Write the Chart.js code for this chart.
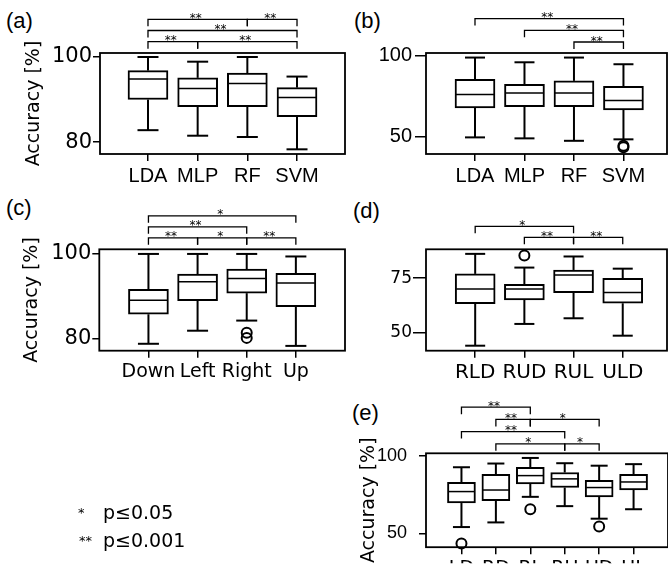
<!DOCTYPE html>
<html>
<head>
<meta charset="utf-8">
<script src="https://cdn.jsdelivr.net/npm/chart.js@4.4.1/dist/chart.umd.min.js"></script>
<style>
  html, body { margin: 0; padding: 0; background: #fff; overflow: hidden; }
  #fig { position: relative; width: 668px; height: 570px; overflow: hidden; background: #fff; }
  #fig canvas { position: absolute; left: 0; top: 0; }
  .lbl { position: absolute; font: 22px "Liberation Sans", Arial, sans-serif; line-height: 22px; color: #000; white-space: nowrap; }
  .lg  { position: absolute; font: 19px "DejaVu Sans", sans-serif; line-height: 19px; color: #000; white-space: nowrap; will-change: transform; }
  .st  { position: absolute; font: 13px "DejaVu Sans", sans-serif; line-height: 13px; color: #000; white-space: nowrap; will-change: transform; }
</style>
</head>
<body>
<div id="fig">
  <div class="lbl" style="left:6px;top:10px">(a)</div>
  <div class="lbl" style="left:354px;top:10px">(b)</div>
  <div class="lbl" style="left:6px;top:197px">(c)</div>
  <div class="lbl" style="left:353px;top:200px">(d)</div>
  <div class="lbl" style="left:352px;top:402px">(e)</div>

  <div class="st" style="left:78px;top:506px">*</div>
  <div class="lg" style="left:103px;top:503px">p≤0.05</div>
  <div class="st" style="left:79px;top:534px">**</div>
  <div class="lg" style="left:103px;top:531px">p≤0.001</div>
</div>

<script>
// ---- data ----
// (a) classifiers
const catsA = ['LDA', 'MLP', 'RF', 'SVM'];
const loA   = [82.8, 81.5, 81.2, 78.3];
const q1A   = [90.0, 88.3, 88.3, 86.0];
const medA  = [94.8, 92.6, 93.8, 90.5];
const q3A   = [96.8, 95.1, 96.2, 92.8];
const hiA   = [100, 98.9, 100, 95.4];
const outA  = [];
const yTicksA = [80, 100];
// [from, to, stars, level]  level 0 = closest to the axes
const sigA = [[0, 1, '**', 0], [1, 3, '**', 0], [0, 3, '**', 1], [0, 2, '**', 2], [2, 3, '**', 2]];

// (b) classifiers
const catsB = ['LDA', 'MLP', 'RF', 'SVM'];
const loB   = [49.6, 49.0, 47.5, 48.4];
const q1B   = [67.7, 68.4, 68.4, 66.5];
const medB  = [75.9, 76.9, 76.9, 72.3];
const q3B   = [85.3, 82.2, 84.3, 81.0];
const hiB   = [98.6, 95.7, 98.6, 94.5];
const outB  = [[3, 43.5], [3, 44.5]];
const yTicksB = [50, 100];
const sigB = [[2, 3, '**', 0], [1, 3, '**', 1], [0, 3, '**', 2]];

// (c) directions
const catsC = ['Down', 'Left', 'Right', 'Up'];
const loC   = [78.7, 81.8, 84.2, 78.2];
const q1C   = [85.7, 88.9, 90.7, 87.5];
const medC  = [89.0, 93.4, 94.2, 93.1];
const q3C   = [91.6, 95.2, 96.4, 95.4];
const hiC   = [100, 100, 100, 99.4];
const outC  = [[2, 81.3], [2, 80.1]];
const yTicksC = [80, 100];
const sigC = [[0, 1, '**', 0], [1, 2, '*', 0], [2, 3, '**', 0], [0, 2, '**', 1], [0, 3, '*', 2]];

// (d) three-direction sets
const catsD = ['RLD', 'RUD', 'RUL', 'ULD'];
const loD   = [44.0, 54.0, 56.6, 48.6];
const q1D   = [63.3, 65.0, 68.4, 63.5];
const medD  = [70.1, 70.1, 76.5, 68.4];
const q3D   = [77.0, 72.2, 78.8, 75.0];
const hiD   = [86.2, 79.9, 85.0, 79.4];
const outD  = [[1, 85.4]];
const yTicksD = [50, 75];
const sigD = [[1, 2, '**', 0], [2, 3, '**', 0], [0, 2, '*', 1]];

// (e) two-direction sets
const catsE = ['LD', 'RD', 'RL', 'RU', 'UD', 'UL'];
const loE   = [54.0, 57.0, 73.5, 67.5, 59.4, 65.5];
const q1E   = [69.5, 71.1, 81.9, 79.5, 73.5, 77.9];
const medE  = [76.9, 77.9, 87.2, 85.1, 79.5, 83.1];
const q3E   = [82.9, 88.0, 92.6, 89.2, 84.2, 88.0];
const hiE   = [92.6, 95.0, 98.6, 95.2, 93.6, 94.6];
const outE  = [[0, 43.4], [2, 65.5], [4, 54.4]];
const yTicksE = [50, 100];
const sigE = [[1, 3, '*', 0], [3, 4, '*', 0], [0, 3, '**', 1], [1, 2, '**', 2], [2, 4, '*', 2], [0, 2, '**', 3]];

// ---- layout ----
const W = 668, H = 570;
const fig = document.getElementById('fig');
Chart.defaults.color = '#000';

const panels = [
  { cats: catsA, lo: loA, q1: q1A, med: medA, q3: q3A, hi: hiA, out: outA, sig: sigA, yTicks: yTicksA,
    yMin: 77.2, yMax: 100.94, xMin: -0.966, xMax: 3.966, area: { l: 100, r: 345, t: 53, b: 154 },
    padL: 22.7, title: true, yFont: { family: 'DejaVu Sans', size: 21 }, xFont: { family: 'Liberation Sans', size: 20 },
    yTick: 7, yPad: 1, box: 40, cap: 21, lev0: 11.3, levStep: 11.2 },
  { cats: catsB, lo: loB, q1: q1B, med: medB, q3: q3B, hi: hiB, out: outB, sig: sigB, yTicks: yTicksB,
    yMin: 39.4, yMax: 101.4, xMin: -0.99, xMax: 3.88, area: { l: 426, r: 667, t: 53, b: 154 },
    padL: 360, title: false, yFont: { family: 'Liberation Sans', size: 20 }, xFont: { family: 'Liberation Sans', size: 20 },
    yTick: 11, yPad: 3, box: 40, cap: 20, lev0: 11, levStep: 11.7 },
  { cats: catsC, lo: loC, q1: q1C, med: medC, q3: q3C, hi: hiC, out: outC, sig: sigC, yTicks: yTicksC,
    yMin: 77.06, yMax: 101.1, xMin: -1.0, xMax: 4.0, area: { l: 99.3, r: 345, t: 249.3, b: 350.7 },
    padL: 21, title: true, yFont: { family: 'DejaVu Sans', size: 21 }, xFont: { family: 'DejaVu Sans', size: 19 },
    yTick: 7, yPad: 1, box: 40, cap: 21, lev0: 11.5, levStep: 11 },
  { cats: catsD, lo: loD, q1: q1D, med: medD, q3: q3D, hi: hiD, out: outD, sig: sigD, yTicks: yTicksD,
    yMin: 41.7, yMax: 88.3, xMin: -1.0, xMax: 3.9, area: { l: 426, r: 667, t: 249.3, b: 350.7 },
    padL: 360, title: false, yFont: { family: 'DejaVu Sans', size: 17 }, xFont: { family: 'DejaVu Sans', size: 20 },
    yTick: 13, yPad: 1, box: 40, cap: 20, lev0: 12, levStep: 11 },
  { cats: catsE, lo: loE, q1: q1E, med: medE, q3: q3E, hi: hiE, out: outE, sig: sigE, yTicks: yTicksE,
    yMin: 41, yMax: 101.6, xMin: -1.03, xMax: 6.0, area: { l: 426, r: 670, t: 453.3, b: 554 },
    padL: 358, title: true, yFont: { family: 'Liberation Sans', size: 18 }, xFont: { family: 'DejaVu Sans', size: 19 },
    yTick: 7, yPad: 12, box: 28, cap: 17, lev0: 9.5, levStep: 12.2 },
];

// whiskers, caps, medians, frame and significance brackets
function boxPlugin(p) {
  const seg = (ctx, x1, y1, x2, y2) => { ctx.beginPath(); ctx.moveTo(x1, y1); ctx.lineTo(x2, y2); ctx.stroke(); };
  return {
    id: 'boxes',
    beforeDatasetsDraw(chart) {
      const { ctx, scales: { x, y } } = chart;
      ctx.save();
      ctx.strokeStyle = '#000';
      ctx.lineWidth = 2;
      p.cats.forEach((c, i) => {
        const px = x.getPixelForValue(i);
        const yLo = y.getPixelForValue(p.lo[i]), yHi = y.getPixelForValue(p.hi[i]);
        seg(ctx, px, y.getPixelForValue(p.q1[i]), px, yLo);
        seg(ctx, px, y.getPixelForValue(p.q3[i]), px, yHi);
        seg(ctx, px - p.cap / 2, yLo, px + p.cap / 2, yLo);
        seg(ctx, px - p.cap / 2, yHi, px + p.cap / 2, yHi);
      });
      ctx.restore();
    },
    afterDatasetsDraw(chart) {
      const { ctx, scales: { x, y } } = chart;
      ctx.save();
      ctx.strokeStyle = '#000';
      ctx.lineWidth = 1.5;
      p.cats.forEach((c, i) => {
        const px = x.getPixelForValue(i), py = y.getPixelForValue(p.med[i]);
        seg(ctx, px - p.box / 2 + 1, py, px + p.box / 2 - 1, py);
      });
      ctx.restore();
    },
    afterDraw(chart) {
      const { ctx, chartArea: a, scales: { x } } = chart;
      ctx.save();
      ctx.strokeStyle = '#000';
      ctx.fillStyle = '#000';
      ctx.lineWidth = 1.8;
      ctx.strokeRect(a.left, a.top, a.right - a.left, a.bottom - a.top);
      ctx.lineWidth = 1.3;
      ctx.font = '12px "DejaVu Sans"';
      ctx.textAlign = 'center';
      ctx.textBaseline = 'alphabetic';
      p.sig.forEach(([i, j, stars, lev]) => {
        const x1 = x.getPixelForValue(i), x2 = x.getPixelForValue(j);
        const yl = a.top - p.lev0 - lev * p.levStep;
        ctx.beginPath();
        ctx.moveTo(x1, yl + 7); ctx.lineTo(x1, yl); ctx.lineTo(x2, yl); ctx.lineTo(x2, yl + 7);
        ctx.stroke();
        ctx.fillText(stars, (x1 + x2) / 2 - 2, yl + 2.5);
      });
      ctx.restore();
    }
  };
}

function makeChart(p) {
  const cv = document.createElement('canvas');
  cv.width = W; cv.height = H;
  fig.appendChild(cv);
  const yW = p.area.l - p.padL;
  const xH = Math.min(32, H - p.area.b);
  const padB = H - p.area.b - xH;
  const tickGrid = (len) => ({ display: true, drawOnChartArea: false, drawTicks: true, tickLength: len,
                               color: '#000', lineWidth: 1.5, offset: false });
  return new Chart(cv, {
    type: 'bar',
    data: {
      datasets: [
        { type: 'scatter', order: 0, clip: false,
          data: p.out.map(o => ({ x: o[0], y: o[1] })),
          pointRadius: 5, pointHoverRadius: 5, pointBorderWidth: 2,
          pointBackgroundColor: 'rgba(255,255,255,0)', pointBorderColor: '#000', borderColor: '#000' },
        { type: 'bar', order: 1,
          data: p.cats.map((c, i) => ({ x: i, y: [p.q1[i], p.q3[i]] })),
          backgroundColor: '#fff', borderColor: '#000', borderWidth: 2, borderSkipped: false,
          barThickness: p.box }
      ]
    },
    options: {
      responsive: false,
      animation: false,
      events: [],
      layout: { autoPadding: false, padding: { left: p.padL, right: W - p.area.r, top: p.area.t, bottom: padB } },
      plugins: { legend: { display: false }, tooltip: { enabled: false } },
      scales: {
        x: {
          type: 'linear', min: p.xMin, max: p.xMax, offset: false, bounds: 'data',
          afterBuildTicks: s => { s.ticks = p.cats.map((c, i) => ({ value: i })); },
          afterFit: s => { s.height = xH; },
          grid: tickGrid(7),
          border: { display: false },
          ticks: { autoSkip: false, maxRotation: 0, minRotation: 0, padding: 3, color: '#000',
                   font: p.xFont, callback: v => p.cats[v] }
        },
        y: {
          type: 'linear', min: p.yMin, max: p.yMax, bounds: 'data',
          afterBuildTicks: s => { s.ticks = p.yTicks.map(v => ({ value: v })); },
          afterFit: s => { s.width = yW; },
          grid: tickGrid(p.yTick),
          border: { display: false },
          ticks: { padding: p.yPad, color: '#000', font: p.yFont },
          title: { display: p.title, text: 'Accuracy [%]', color: '#000', padding: 0,
                   font: { family: 'DejaVu Sans', size: 19 } }
        }
      }
    },
    plugins: [boxPlugin(p)]
  });
}

panels.forEach(makeChart);
</script>
</body>
</html>
